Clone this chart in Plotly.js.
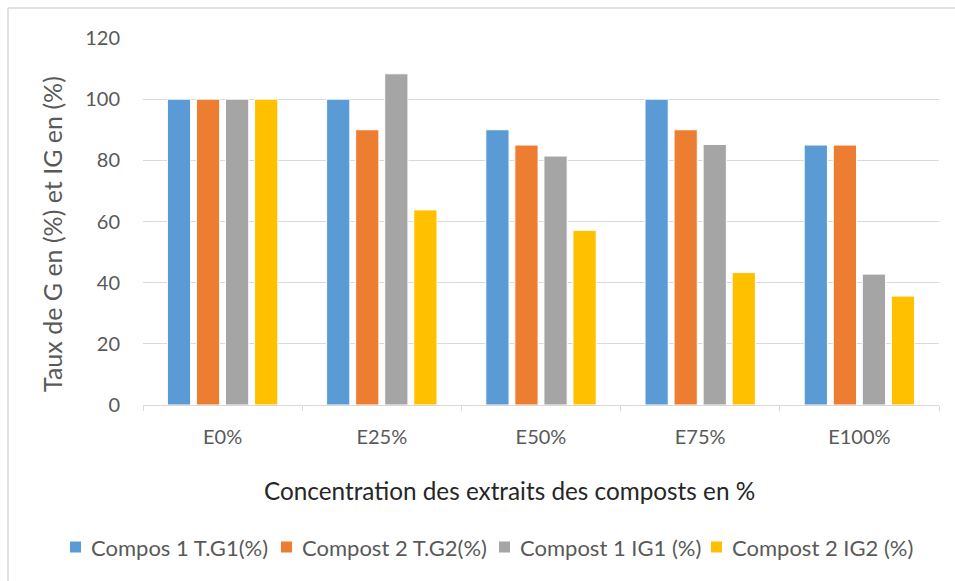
<!DOCTYPE html>
<html>
<head>
<meta charset="utf-8">
<script src="https://cdn.plot.ly/plotly-3.0.1.min.js"></script>
<style>
html,body{margin:0;padding:0;background:#fff;}
#chart{width:955px;height:581px;}
</style>
</head>
<body>
<div id="chart"></div>
<script>
const categories = ["E0%", "E25%", "E50%", "E75%", "E100%"];
const seriesNames = ["Compos 1 T.G1(%)", "Compost 2 T.G2(%)", "Compost 1 IG1 (%)", "Compost 2 IG2 (%)"];
const tg1 = [100, 100, 90, 100, 85];
const tg2 = [100, 90, 85, 90, 85];
const ig1 = [100, 108.3, 81.4, 85.2, 42.8];
const ig2 = [100, 63.8, 57.1, 43.3, 35.6];
const colors = ["#5b9bd5", "#ed7d31", "#a5a5a5", "#ffc000"];
const xTitle = "Concentration des extraits des composts en %";
const yTitle = "Taux de G en (%) et IG en (%)";

const values = [tg1, tg2, ig1, ig2];
const traces = values.map((v, i) => ({
  type: "bar",
  name: seriesNames[i],
  x: categories,
  y: v,
  showlegend: false,
  marker: {color: colors[i], line: {color: "#ffffff", width: 1}},
  hoverinfo: "x+y+name"
}));

// plot area geometry (pixels)
const L = 143, R = 16, T = 38, B = 176, W = 955, H = 581;
const pw = W - L - R, ph = H - T - B;
const px = x => (x - L) / pw;
const py = y => (H - B - y) / ph;

const font = "Lato, Calibri, 'Liberation Sans', sans-serif";

// custom legend (Excel-like): square + text
const legendSquareX = [70, 281, 499, 711];
const legendY = 547;
const legendShapes = colors.map((c, i) => ({
  type: "rect", xref: "paper", yref: "paper",
  x0: px(legendSquareX[i]), x1: px(legendSquareX[i] + 11),
  y0: py(legendY + 5.5), y1: py(legendY - 5.5),
  fillcolor: c, line: {width: 0}
}));
const legendAnnotations = seriesNames.map((n, i) => ({
  xref: "paper", yref: "paper",
  x: px(legendSquareX[i] + 19), y: py(legendY),
  xanchor: "left", yanchor: "middle",
  text: n, showarrow: false,
  font: {family: font, size: 22, color: "#595959"}
}));

const titleAnnotations = [
  {xref: "paper", yref: "paper", x: px(509), y: py(490), xanchor: "center", yanchor: "middle",
   text: xTitle, showarrow: false, font: {family: font, size: 24.3, color: "#262626"}},
  {xref: "paper", yref: "paper", x: px(52), y: py(234), xanchor: "center", yanchor: "middle",
   text: yTitle, textangle: -90, showarrow: false, font: {family: font, size: 25, color: "#595959"}}
];

const layout = {
  width: W,
  height: H,
  paper_bgcolor: "#ffffff",
  plot_bgcolor: "#ffffff",
  margin: {l: L, r: R, t: T, b: B},
  barmode: "group",
  bargap: 0.27,
  bargroupgap: 0.2,
  showlegend: false,
  font: {family: font, color: "#595959", size: 20},
  xaxis: {
    type: "category",
    showline: true,
    linecolor: "#d9d9d9",
    linewidth: 1,
    ticks: "outside",
    tickson: "boundaries",
    ticklen: 5,
    tickcolor: "#d9d9d9",
    ticklabelstandoff: 14,
    tickfont: {family: font, size: 20, color: "#595959"},
    showgrid: false
  },
  yaxis: {
    range: [0, 120],
    dtick: 20,
    showgrid: true,
    gridcolor: "#d9d9d9",
    gridwidth: 1,
    zeroline: false,
    showline: false,
    ticks: "",
    ticklabelstandoff: 22,
    tickfont: {family: font, size: 20, color: "#595959"}
  },
  annotations: titleAnnotations.concat(legendAnnotations),
  shapes: [
    {type: "line", xref: "paper", yref: "paper", x0: px(8), x1: px(W + 20), y0: py(8), y1: py(8), line: {color: "#d9d9d9", width: 1.5}},
    {type: "line", xref: "paper", yref: "paper", x0: px(8), x1: px(8), y0: py(8), y1: py(H + 20), line: {color: "#d9d9d9", width: 1.5}}
  ].concat(legendShapes)
};

Plotly.newPlot("chart", traces, layout, {displayModeBar: false, responsive: false});
</script>
</body>
</html>
